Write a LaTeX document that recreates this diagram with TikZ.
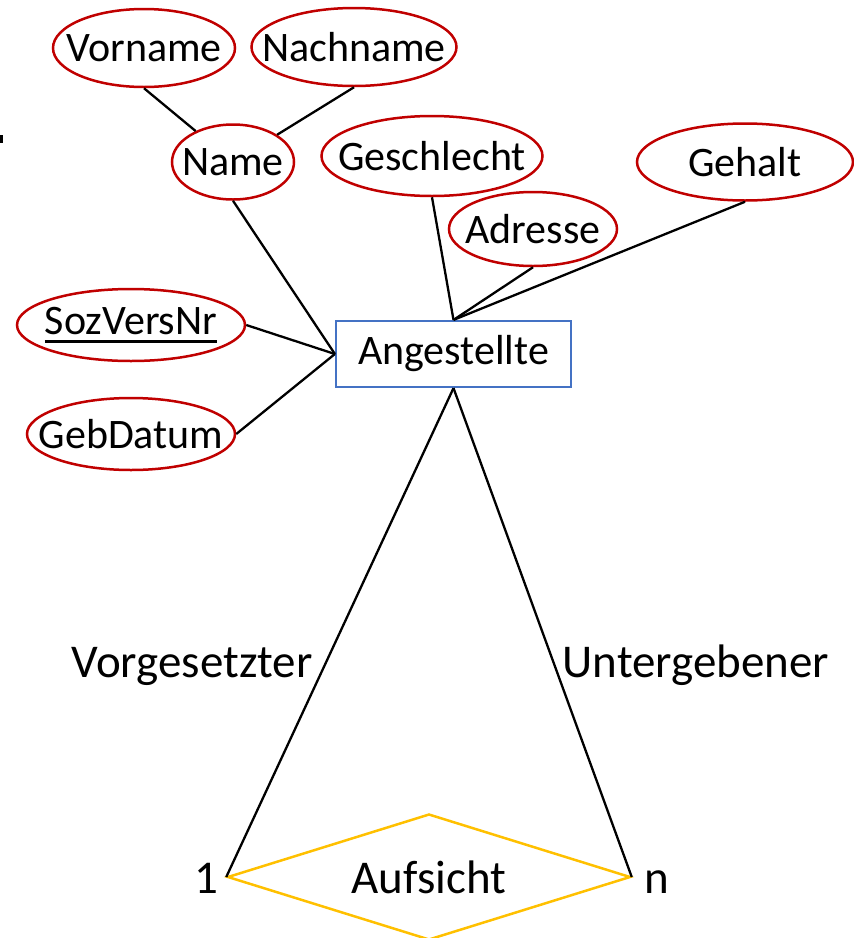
\documentclass[tikz,border=0pt]{standalone}
\usepackage{fontspec}
\setmainfont{Carlito}
\usetikzlibrary{shapes.geometric}
\definecolor{attrred}{HTML}{C00000}
\definecolor{entblue}{HTML}{4472C4}
\definecolor{relgold}{HTML}{FFC000}
% key attribute: text with a heavy underline
\newcommand\keyattr[1]{\setbox0\hbox{#1}\rlap{\rule[-8pt]{\wd0}{3pt}}\box0}
\tikzset{
  txt/.style={font=\fontsize{42}{50}\selectfont, inner sep=0pt},
  bigtxt/.style={font=\fontsize{47}{56}\selectfont, inner sep=0pt},
  attr/.style={ellipse, draw=attrred, line width=2.5pt, inner sep=0pt},
  entity/.style={rectangle, draw=entblue, line width=2.2pt, inner sep=0pt,
    minimum width=235pt, minimum height=66pt},
  rel/.style={diamond, draw=relgold, line width=2.5pt, inner sep=0pt,
    minimum width=403pt, minimum height=126pt},
  link/.style={line width=2.3pt, black}
}
\begin{document}
\begin{tikzpicture}[x=1pt, y=-1pt]
\useasboundingbox (0,0) rectangle (854,938);
\fill[black] (0,135) rectangle (2.5,143);

% attributes
\node[attr, minimum width=182pt, minimum height=78pt,
  label={[txt]center:Vorname}] (vorname) at (144,48) {};
\node[attr, minimum width=205pt, minimum height=78pt,
  label={[txt]center:Nachname}] (nachname) at (354,47) {};
\node[attr, minimum width=122pt, minimum height=75pt,
  label={[txt]center:Name}] (name) at (233,162) {};
\node[attr, minimum width=221pt, minimum height=80pt,
  label={[txt]center:Geschlecht}] (geschlecht) at (432,156) {};
\node[attr, minimum width=216pt, minimum height=77pt,
  label={[txt]center:Gehalt}] (gehalt) at (745,162) {};
\node[attr, minimum width=168pt, minimum height=74pt,
  label={[txt]center:Adresse}] (adresse) at (533,229) {};
\node[attr, minimum width=228pt, minimum height=72pt,
  label={[txt]center:\keyattr{SozVersNr}}] (svnr) at (131,325) {};
\node[attr, minimum width=208pt, minimum height=72pt,
  label={[txt]center:GebDatum}] (geb) at (131,434) {};

% entity and relationship
\node[entity, label={[txt]center:Angestellte}] (ang) at (453.5,354) {};
\node[rel, label={[bigtxt]center:Aufsicht}] (aufsicht) at (429,877) {};

% connectors
\draw[link] (vorname.south) -- (name);
\draw[link] (nachname.south) -- (name);
\draw[link] (name.south) -- (ang.west);
\draw[link] (svnr.east) -- (ang.west);
\draw[link] (geb.east) -- (ang.west);
\draw[link] (geschlecht.south) -- (ang.north);
\draw[link] (adresse.south) -- (ang.north);
\draw[link] (gehalt.south) -- (ang.north);
\draw[link] (ang.south) -- (aufsicht.west);
\draw[link] (ang.south) -- (aufsicht.east);

% role names and cardinalities
\node[bigtxt, anchor=base] (vg) at (192,677) {Vorgesetzter};
\node[bigtxt, anchor=base] (ug) at (696,677) {Untergebener};
\node[bigtxt, anchor=base] (one) at (206,893) {1};
\node[bigtxt, anchor=base] (many) at (657,893) {n};
\end{tikzpicture}
\end{document}
